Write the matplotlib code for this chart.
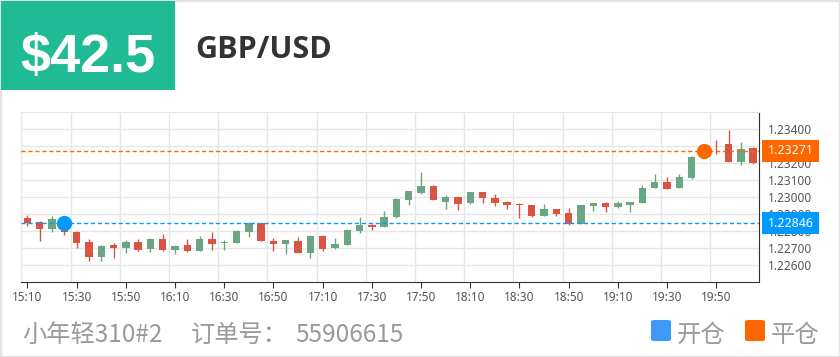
import matplotlib
matplotlib.use("Agg")
import matplotlib.pyplot as plt
import matplotlib.transforms as mtransforms
from matplotlib.patches import Rectangle, FancyBboxPatch
import numpy as np

# 时间轴 15:10 ~ 20:05，每 5 分钟一根
times = [f"{(15 * 60 + 10 + 5 * i) // 60}:{(15 * 60 + 10 + 5 * i) % 60:02d}" for i in range(60)]

opens = [1.22877, 1.22851, 1.22811, 1.22846, 1.22797, 1.22735, 1.22646, 1.22716, 1.22700, 1.22739,
         1.22694, 1.22756, 1.22690, 1.22719, 1.22683, 1.22754, 1.22728, 1.22730, 1.22795, 1.22845,
         1.22744, 1.22723, 1.22740, 1.22672, 1.22771, 1.22699, 1.22719, 1.22801, 1.22834, 1.22826,
         1.22880, 1.22982, 1.23025, 1.23067, 1.22973, 1.22998, 1.22963, 1.23031, 1.22994, 1.22971,
         1.22961, 1.22953, 1.22890, 1.22931, 1.22906, 1.22841, 1.22949, 1.22963, 1.22939, 1.22953,
         1.22963, 1.23052, 1.23086, 1.23052, 1.23113, 1.23236, 1.23313, 1.23308, 1.23207, 1.23285]
closes = [1.22848, 1.22811, 1.22871, 1.22795, 1.22733, 1.22646, 1.22714, 1.22700, 1.22739, 1.22690,
          1.22754, 1.22690, 1.22714, 1.22681, 1.22754, 1.22723, 1.22738, 1.22801, 1.22845, 1.22742,
          1.22723, 1.22746, 1.22672, 1.22771, 1.22693, 1.22727, 1.22808, 1.22834, 1.22822, 1.22884,
          1.22990, 1.23033, 1.23067, 1.22980, 1.22998, 1.22959, 1.23027, 1.22992, 1.22965, 1.22951,
          1.22951, 1.22890, 1.22929, 1.22898, 1.22839, 1.22953, 1.22963, 1.22939, 1.22963, 1.22968,
          1.23054, 1.23086, 1.23046, 1.23119, 1.23236, 1.23275, 1.23310, 1.23207, 1.23283, 1.23201]
highs = [1.22896, 1.22859, 1.22890, 1.22855, 1.22799, 1.22756, 1.22716, 1.22733, 1.22749, 1.22756,
         1.22758, 1.22785, 1.22716, 1.22752, 1.22772, 1.22797, 1.22750, 1.22806, 1.22855, 1.22848,
         1.22762, 1.22748, 1.22765, 1.22779, 1.22779, 1.22762, 1.22810, 1.22881, 1.22843, 1.22919,
         1.22992, 1.23037, 1.23145, 1.23073, 1.23012, 1.23002, 1.23031, 1.23031, 1.23018, 1.22976,
         1.22967, 1.22955, 1.22957, 1.22931, 1.22933, 1.22955, 1.22963, 1.22968, 1.22978, 1.22968,
         1.23072, 1.23132, 1.23117, 1.23136, 1.23238, 1.23285, 1.23336, 1.23394, 1.23320, 1.23291]
lows = [1.22828, 1.22745, 1.22793, 1.22778, 1.22700, 1.22624, 1.22626, 1.22642, 1.22671, 1.22684,
        1.22677, 1.22684, 1.22663, 1.22677, 1.22683, 1.22691, 1.22691, 1.22730, 1.22764, 1.22740,
        1.22682, 1.22664, 1.22670, 1.22645, 1.22686, 1.22695, 1.22717, 1.22787, 1.22808, 1.22822,
        1.22878, 1.22951, 1.23020, 1.22980, 1.22931, 1.22922, 1.22961, 1.22963, 1.22945, 1.22931,
        1.22878, 1.22880, 1.22890, 1.22890, 1.22837, 1.22841, 1.22918, 1.22912, 1.22933, 1.22910,
        1.22963, 1.23052, 1.23046, 1.23052, 1.23107, 1.23230, 1.23254, 1.23207, 1.23185, 1.23195]

open_idx, open_price = 3, 1.22846     # 开仓
close_idx, close_price = 55, 1.23271  # 平仓

UP = "#6aa684"
DOWN = "#da5443"
BLUE = "#0099ff"
ORANGE = "#ff6600"
W, H = 840, 357

fig = plt.figure(figsize=(W / 100, H / 100), dpi=100)
fig.patch.set_facecolor("white")

def px(x0, y0, x1, y1):
    # 像素坐标 -> figure 坐标 [l, b, w, h]
    return [x0 / W, 1 - y1 / H, (x1 - x0) / W, (y1 - y0) / H]

ax = fig.add_axes(px(21.3, 111.7, 759.3, 282.3))

x = np.arange(len(times))
o = np.array(opens); c = np.array(closes)
colors = [UP if cc >= oo else DOWN for oo, cc in zip(o, c)]
ax.vlines(x, lows, highs, colors=colors, lw=1, zorder=3)
body_h = np.maximum(np.abs(c - o), 0.000015)
ax.bar(x, body_h, bottom=np.minimum(o, c), width=0.6, color=colors, zorder=4, linewidth=0)

# 开仓 / 平仓 线
for price, col in [(open_price, BLUE), (close_price, ORANGE)]:
    ax.axhline(price, color=col, lw=1, dashes=(3, 2), zorder=5)
ax.plot(open_idx, open_price, "o", ms=11, color=BLUE, mec="none", zorder=6)
ax.plot(close_idx, close_price, "o", ms=11, color=ORANGE, mec="none", zorder=6)

ax.set_xlim(-0.5, len(times) - 0.5)
ax.set_ylim(1.225, 1.235)

ax.set_xticks(x[::4])
ax.set_xticklabels(times[::4])
ax.set_xticks(np.arange(-0.5, len(times), 4), minor=True)
yt = np.arange(1.226, 1.23401, 0.001)
ax.set_yticks(yt)
ax.set_yticklabels([f"{v:.5f}" for v in yt])
ax.yaxis.tick_right()

ax.grid(axis="x", which="minor", color="#e6e6e6", lw=1)
ax.grid(axis="y", which="major", color="#e6e6e6", lw=1)
ax.set_axisbelow(True)
ax.tick_params(axis="x", which="major", length=4, color="#333333", labelsize=8.5,
               labelcolor="#555555", pad=2)
ax.tick_params(axis="x", which="minor", length=0)
ax.tick_params(axis="y", length=0, labelsize=8.5, labelcolor="#555555", pad=6)
for lab in ax.get_xticklabels() + ax.get_yticklabels():
    lab.set_family("Noto Sans")
ax.spines["left"].set_color("#e6e6e6")
ax.spines["top"].set_color("#e6e6e6")
ax.spines["right"].set_color("#333333")
ax.spines["bottom"].set_color("#333333")

# 右侧价格标签（盖住下面的刻度文字）
blend = mtransforms.blended_transform_factory(ax.transAxes, ax.transData)
box_w = 57 / 738
box_h = 22 / 170.6 * 0.010
for price, col in [(open_price, BLUE), (close_price, ORANGE)]:
    ax.add_patch(Rectangle((1.0041, price - box_h / 2), box_w, box_h, transform=blend,
                           fc=col, ec="none", clip_on=False, zorder=9))
    ax.text(1.0041 + box_w / 2, price, f"{price:.5f}", transform=blend, ha="center",
            va="center", color="white", fontsize=9, family="Noto Sans", clip_on=False,
            zorder=10)

# 顶部标题区
fig.patches.append(Rectangle((1 / W, 1 - 90 / H), 174 / W, 89 / H, transform=fig.transFigure,
                             fc="#20bb94", ec="none", zorder=1))
fig.text(87.5 / W, 1 - 71.7 / H, "$42.5", color="white", fontsize=39, fontweight="bold",
         family="Liberation Sans", ha="center", va="baseline", zorder=2)
fig.text(195 / W, 1 - 58.3 / H, "GBP/USD", color="#333333", fontsize=22, fontweight="bold",
         family="Open Sans", ha="left", va="baseline")

# 底部信息
cjk = ["Noto Sans CJK SC", "DejaVu Sans"]
gray = "#9a9a9a"
base = 1 - 341.5 / H
fig.text(22 / W, base, "小年轻310#2", color=gray, fontsize=17.5, family=cjk, va="baseline")
fig.text(191 / W, base, "订单号：", color=gray, fontsize=17.5, family=cjk, va="baseline")
fig.text(295 / W, base, "55906615", color=gray, fontsize=17.5, family=cjk, va="baseline")

for x0, col, lab in [(651, "#3d9af7", "开仓"), (745, ORANGE, "平仓")]:
    fig.patches.append(FancyBboxPatch((x0 / W, 1 - 341 / H), 20 / W, 21 / H,
                                      boxstyle="round,pad=0,rounding_size=0.004",
                                      transform=fig.transFigure, fc=col, ec="none"))
    fig.text((x0 + 26) / W, base, lab, color=gray, fontsize=17.5, family=cjk, va="baseline")

# 外框
fig.patches.append(Rectangle((0, 0), 1, 1, transform=fig.transFigure, fill=False,
                             ec="#e3e3e3", lw=2.5, zorder=0))

fig.savefig("out.png", dpi=100)
